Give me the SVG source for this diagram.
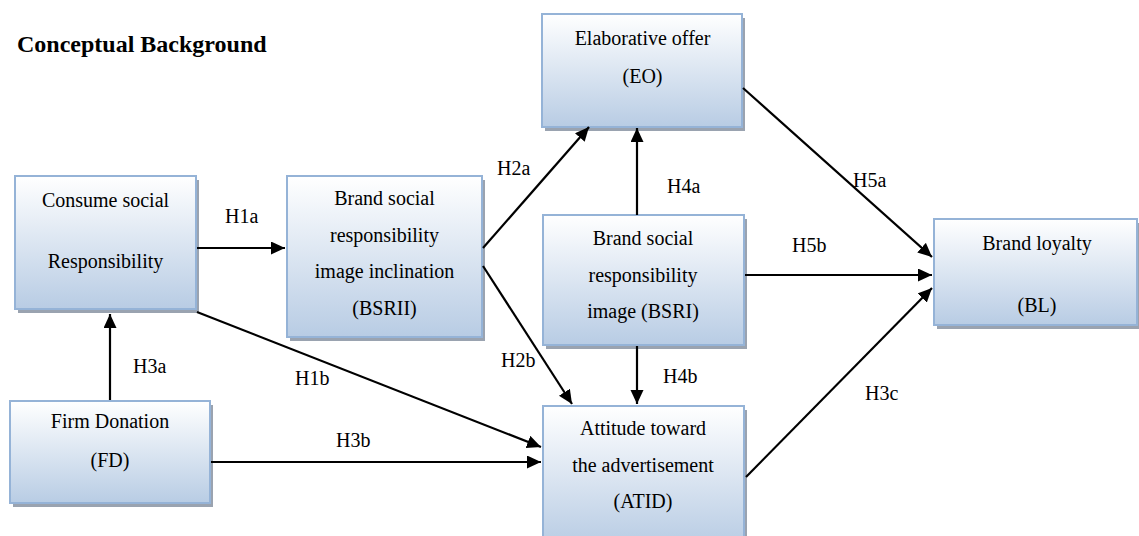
<svg xmlns="http://www.w3.org/2000/svg" width="1139" height="536" viewBox="0 0 1139 536">
<defs>
<linearGradient id="g" x1="0" y1="0" x2="0" y2="1">
<stop offset="0" stop-color="#ffffff"/>
<stop offset="1" stop-color="#b8cce4"/>
</linearGradient>
<marker id="ah" markerUnits="userSpaceOnUse" markerWidth="15" markerHeight="14" refX="14" refY="6.5" orient="auto">
<path d="M0,0 L14,6.5 L0,13 z" fill="#000"/>
</marker>
</defs>
<style>
.box{fill:url(#g);stroke:#95b3d7;stroke-width:2}
.sh{fill:#9aa3b0}
text{font-family:'Liberation Serif',Tinos,'Times New Roman',Times,'Noto Serif','DejaVu Serif',FreeSerif,serif;fill:#000}
.t{font-size:20px;text-anchor:middle}
.lb{font-size:20px}
.title{font-size:24px;font-weight:bold}
.c{stroke:#000;stroke-width:2.2;fill:none;marker-end:url(#ah)}
</style>
<rect width="1139" height="536" fill="#fff"/>
<text class="title" x="17" y="52">Conceptual Background</text>

<g id="csr">
<rect class="sh" x="18" y="180" width="181" height="133"/>
<rect class="box" x="15" y="176" width="181" height="133"/>
<text class="t" x="105.5" y="207">Consume social</text>
<text class="t" x="105.5" y="268">Responsibility</text>
</g>
<g id="bsrii">
<rect class="sh" x="290" y="180" width="195" height="161"/>
<rect class="box" x="287" y="176" width="195" height="161"/>
<text class="t" x="384.5" y="205">Brand social</text>
<text class="t" x="384.5" y="242">responsibility</text>
<text class="t" x="384.5" y="278">image inclination</text>
<text class="t" x="384.5" y="315">(BSRII)</text>
</g>
<g id="eo">
<rect class="sh" x="545" y="18" width="200" height="113"/>
<rect class="box" x="542" y="14" width="200" height="113"/>
<text class="t" x="642.5" y="45">Elaborative offer</text>
<text class="t" x="642.5" y="83">(EO)</text>
</g>
<g id="bsri">
<rect class="sh" x="546" y="219" width="201" height="130"/>
<rect class="box" x="543" y="215" width="201" height="130"/>
<text class="t" x="643" y="245">Brand social</text>
<text class="t" x="643" y="282">responsibility</text>
<text class="t" x="643" y="318">image (BSRI)</text>
</g>
<g id="bl">
<rect class="sh" x="937" y="223" width="203" height="106"/>
<rect class="box" x="934" y="219" width="203" height="106"/>
<text class="t" x="1037" y="250">Brand loyalty</text>
<text class="t" x="1037" y="312">(BL)</text>
</g>
<g id="fd">
<rect class="sh" x="13" y="405" width="200" height="102"/>
<rect class="box" x="10" y="401" width="200" height="102"/>
<text class="t" x="110" y="428">Firm Donation</text>
<text class="t" x="110" y="467">(FD)</text>
</g>
<g id="atid">
<rect class="sh" x="546" y="410" width="201" height="140"/>
<rect class="box" x="543" y="406" width="201" height="140"/>
<text class="t" x="643" y="435">Attitude toward</text>
<text class="t" x="643" y="472">the advertisement</text>
<text class="t" x="643" y="508">(ATID)</text>
</g>

<g id="connectors">
<line class="c" x1="197" y1="248" x2="285" y2="248"/>
<line class="c" x1="110" y1="400" x2="110" y2="314"/>
<line class="c" x1="197" y1="312" x2="541" y2="447"/>
<line class="c" x1="211" y1="462" x2="541" y2="462"/>
<line class="c" x1="483" y1="248" x2="589" y2="127"/>
<line class="c" x1="483" y1="266" x2="572" y2="404"/>
<line class="c" x1="637" y1="215" x2="637" y2="128"/>
<line class="c" x1="637" y1="346" x2="637" y2="404"/>
<line class="c" x1="743" y1="88" x2="932" y2="257"/>
<line class="c" x1="745" y1="275" x2="932" y2="275"/>
<line class="c" x1="746" y1="477" x2="932" y2="288"/>
</g>

<g id="labels">
<text class="lb" x="225" y="223">H1a</text>
<text class="lb" x="497" y="175">H2a</text>
<text class="lb" x="667" y="193">H4a</text>
<text class="lb" x="853" y="187">H5a</text>
<text class="lb" x="792" y="252">H5b</text>
<text class="lb" x="133" y="373">H3a</text>
<text class="lb" x="295" y="385">H1b</text>
<text class="lb" x="501" y="367">H2b</text>
<text class="lb" x="663" y="383">H4b</text>
<text class="lb" x="336" y="447">H3b</text>
<text class="lb" x="865" y="400">H3c</text>
</g>
</svg>
